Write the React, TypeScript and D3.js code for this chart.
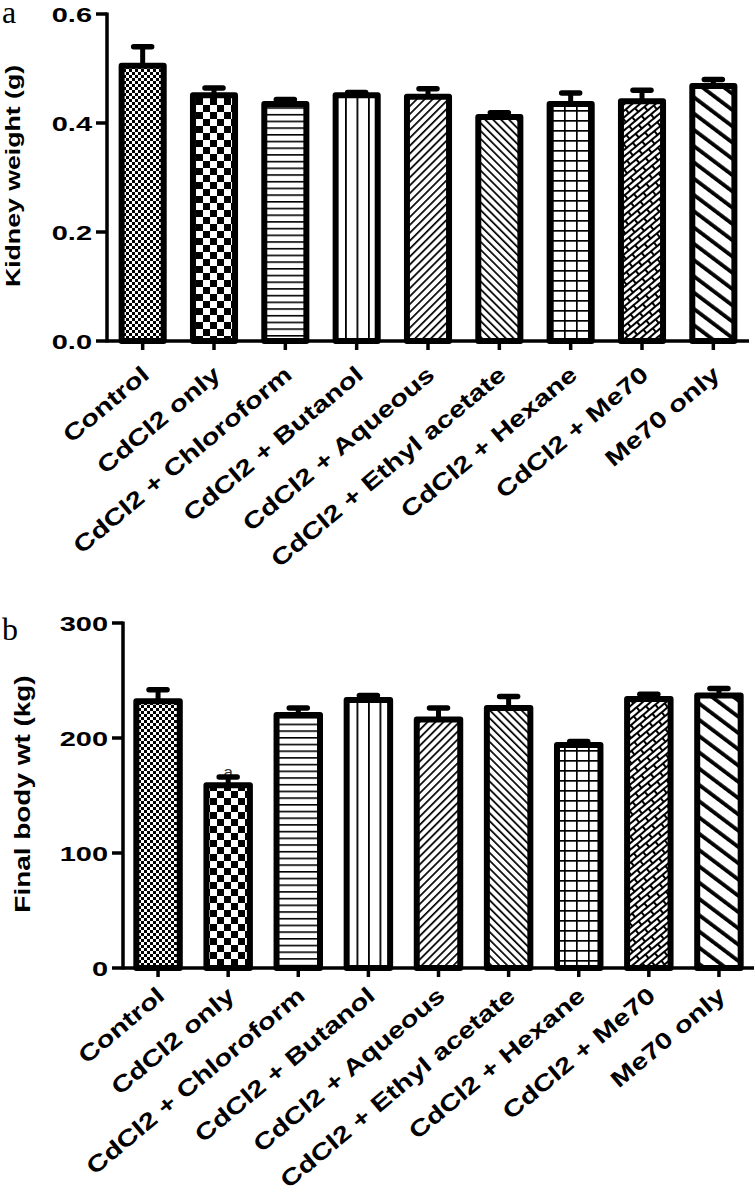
import React from "react";
import * as d3 from "d3";

const categories = [
  "Control",
  "CdCl2 only",
  "CdCl2 + Chloroform",
  "CdCl2 + Butanol",
  "CdCl2 + Aqueous",
  "CdCl2 + Ethyl acetate",
  "CdCl2 + Hexane",
  "CdCl2 + Me70",
  "Me70 only",
];
const kidneyMean = [0.505, 0.451, 0.435, 0.451, 0.448, 0.411, 0.435, 0.44, 0.468];
const kidneyErr = [0.035, 0.013, 0.008, 0.005, 0.015, 0.008, 0.02, 0.02, 0.012];
const kidneyTicks = [0, 0.2, 0.4, 0.6];
const kidneySig = ["", "", "", "", "", "", "", "", ""];

const bodyMean = [232, 159, 220, 233, 216, 226, 194, 234, 237];
const bodyErr = [10, 7, 6, 4, 10, 10, 3, 4, 6];
const bodyTicks = [0, 100, 200, 300];
const bodySig = ["", "a", "", "", "", "", "", "", ""];

const patternKinds = [
  "fineCheck",
  "coarseCheck",
  "hLines",
  "vLines",
  "diagUp",
  "diagDown",
  "grid",
  "brick",
  "wideDiag",
];

function Patterns({ prefix }: { prefix: string }) {
  return (
    <defs>
      <pattern id={`${prefix}-fineCheck`} width={6} height={6} patternUnits="userSpaceOnUse">
        <rect width={6} height={6} fill="#fff" />
        <rect width={3} height={3} fill="#000" />
        <rect x={3} y={3} width={3} height={3} fill="#000" />
      </pattern>
      <pattern id={`${prefix}-coarseCheck`} width={14} height={14} patternUnits="userSpaceOnUse">
        <rect width={14} height={14} fill="#fff" />
        <rect width={7} height={7} fill="#000" />
        <rect x={7} y={7} width={7} height={7} fill="#000" />
      </pattern>
      <pattern id={`${prefix}-hLines`} width={10} height={6.7} patternUnits="userSpaceOnUse">
        <rect width={10} height={6.7} fill="#fff" />
        <rect y={0} width={10} height={1.6} fill="#000" />
      </pattern>
      <pattern id={`${prefix}-vLines`} width={11.5} height={10} patternUnits="userSpaceOnUse">
        <rect width={11.5} height={10} fill="#fff" />
        <rect x={0} width={1.8} height={10} fill="#000" />
      </pattern>
      <pattern id={`${prefix}-diagUp`} width={5.6} height={10} patternUnits="userSpaceOnUse" patternTransform="rotate(45)">
        <rect width={5.6} height={10} fill="#fff" />
        <rect x={0} width={1.7} height={10} fill="#000" />
      </pattern>
      <pattern id={`${prefix}-diagDown`} width={5.6} height={10} patternUnits="userSpaceOnUse" patternTransform="rotate(-45)">
        <rect width={5.6} height={10} fill="#fff" />
        <rect x={0} width={1.7} height={10} fill="#000" />
      </pattern>
      <pattern id={`${prefix}-grid`} width={12} height={10} patternUnits="userSpaceOnUse">
        <rect width={12} height={10} fill="#fff" />
        <rect x={0} width={1.7} height={10} fill="#000" />
        <rect y={0} width={12} height={1.7} fill="#000" />
      </pattern>
      <pattern id={`${prefix}-brick`} width={16} height={10} patternUnits="userSpaceOnUse" patternTransform="rotate(-40)">
        <rect width={16} height={10} fill="#fff" />
        <rect y={0} width={16} height={2} fill="#000" />
        <rect y={5} width={16} height={2} fill="#000" />
        <rect x={0} y={0} width={2} height={5} fill="#000" />
        <rect x={8} y={5} width={2} height={5} fill="#000" />
      </pattern>
      <pattern id={`${prefix}-wideDiag`} width={13} height={10} patternUnits="userSpaceOnUse" patternTransform="rotate(-53)">
        <rect width={13} height={10} fill="#fff" />
        <rect x={0} width={3.8} height={10} fill="#000" />
      </pattern>
    </defs>
  );
}

type ChartProps = {
  prefix: string;
  means: number[];
  errs: number[];
  ticks: number[];
  sig: string[];
  yMax: number;
  yTop: number;
  yBottom: number;
  xLeft: number;
  xRight: number;
  barFrac: number;
  fmt: (v: number) => string;
  title: string;
  titleX: number;
  titleY: number;
  titleSize: number;
  titleScale: number;
  panel: string;
  panelY: number;
  labelDy: number;
};

const SANS = "'Liberation Sans', Arial, sans-serif";

function Chart(p: ChartProps) {
  const x = d3.scaleBand<string>().domain(categories).range([p.xLeft, p.xRight]).padding(0);
  const y = d3.scaleLinear().domain([0, p.yMax]).range([p.yBottom, p.yTop]);
  const bw = x.step() * p.barFrac;
  const y0 = y(0);
  return (
    <g>
      <Patterns prefix={p.prefix} />
      <text x={2} y={p.panelY} fontFamily="'Liberation Serif', serif" fontSize={32} fill="#000">
        {p.panel}
      </text>
      <g transform={`translate(${p.titleX},${p.titleY}) rotate(-90)`}>
        <text
          transform={`scale(${p.titleScale},1)`}
          textAnchor="middle"
          dominantBaseline="central"
          fontFamily={SANS}
          fontWeight="bold"
          fontSize={p.titleSize}
        >
          {p.title}
        </text>
      </g>
      {categories.map((c, i) => {
        const cx = (x(c) as number) + x.step() / 2;
        return (
          <g key={c}>
            <rect
              x={cx - bw / 2}
              y={y(p.means[i])}
              width={bw}
              height={y0 - y(p.means[i])}
              fill={`url(#${p.prefix}-${patternKinds[i]})`}
              stroke="#000"
              strokeWidth={6}
              strokeLinejoin="round"
            />
            {p.sig[i] ? (
              <text
                x={cx}
                y={y(p.means[i] + p.errs[i]) + 1}
                textAnchor="middle"
                fontFamily={SANS}
                fontSize={17}
                fill="#333"
              >
                {p.sig[i]}
              </text>
            ) : null}
            <line x1={cx} x2={cx} y1={y(p.means[i])} y2={y(p.means[i] + p.errs[i])} stroke="#000" strokeWidth={5} />
            <line
              x1={cx - 9}
              x2={cx + 9}
              y1={y(p.means[i] + p.errs[i])}
              y2={y(p.means[i] + p.errs[i])}
              stroke="#000"
              strokeWidth={5.5}
              strokeLinecap="round"
            />
          </g>
        );
      })}
      {/* y axis */}
      <line x1={p.xLeft} x2={p.xLeft} y1={y(p.yMax) - 1.5} y2={y0 + 1.5} stroke="#000" strokeWidth={3.5} />
      {p.ticks.map((t) => (
        <g key={t}>
          <line x1={p.xLeft - 11} x2={p.xLeft} y1={y(t)} y2={y(t)} stroke="#000" strokeWidth={3.5} />
          <g transform={`translate(${p.xLeft - 15},${y(t) + 7.5})`}>
            <text transform="scale(1.38,1)" textAnchor="end" fontFamily={SANS} fontWeight="bold" fontSize={21}>
              {p.fmt(t)}
            </text>
          </g>
        </g>
      ))}
      {/* x axis */}
      <line x1={p.xLeft} x2={p.xRight} y1={y0} y2={y0} stroke="#000" strokeWidth={3.5} />
      {categories.map((c) => {
        const cx = (x(c) as number) + x.step() / 2;
        return (
          <g key={"t" + c}>
            <line x1={cx} x2={cx} y1={y0} y2={y0 + 9} stroke="#000" strokeWidth={3.5} />
            <g transform={`translate(${cx + 8},${y0 + p.labelDy}) rotate(-40)`}>
              <text transform="scale(1.27,1)" textAnchor="end" fontFamily={SANS} fontWeight="bold" fontSize={23}>
                {c}
              </text>
            </g>
          </g>
        );
      })}
    </g>
  );
}

export default function App() {
  return (
    <svg
      width={755}
      height={1195}
      style={{ position: "absolute", left: 0, top: 0, background: "#fff" }}
    >
      <rect width={755} height={1195} fill="#fff" />
      <Chart
        prefix="k"
        means={kidneyMean}
        errs={kidneyErr}
        ticks={kidneyTicks}
        sig={kidneySig}
        yMax={0.6}
        yTop={14}
        yBottom={341}
        xLeft={107}
        xRight={749}
        barFrac={0.59}
        fmt={d3.format(".1f")}
        title="Kidney weight (g)"
        titleX={13}
        titleY={176}
        titleSize={21}
        titleScale={1.27}
        panel="a"
        panelY={23}
        labelDy={36}
      />
      <Chart
        prefix="b"
        means={bodyMean}
        errs={bodyErr}
        ticks={bodyTicks}
        sig={bodySig}
        yMax={300}
        yTop={623}
        yBottom={968}
        xLeft={123}
        xRight={754}
        barFrac={0.62}
        fmt={d3.format("d")}
        title="Final body wt (kg)"
        titleX={22}
        titleY={794}
        titleSize={22}
        titleScale={1.27}
        panel="b"
        panelY={640}
        labelDy={30}
      />
    </svg>
  );
}
